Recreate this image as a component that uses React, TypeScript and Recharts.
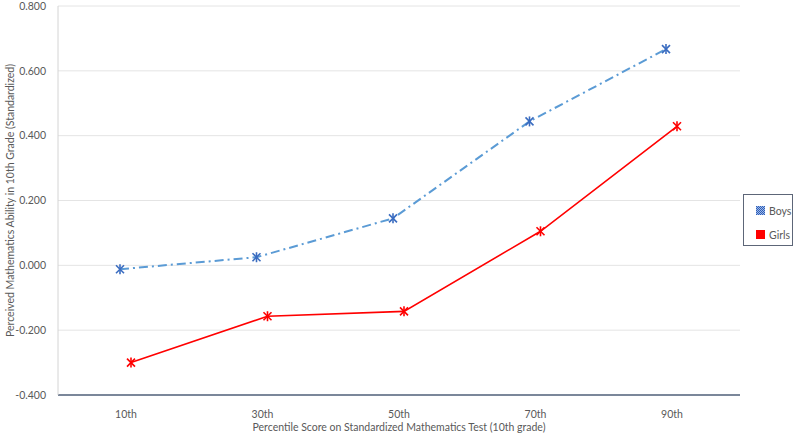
import React from "react";
import {
  LineChart,
  Line,
  XAxis,
  YAxis,
  CartesianGrid,
  Legend,
} from "recharts";

const categories = ["10th", "30th", "50th", "70th", "90th"];
const boys = [-0.012, 0.025, 0.145, 0.444, 0.667];
const girls = [-0.3, -0.157, -0.142, 0.105, 0.429];
const yTicks = [-0.4, -0.2, 0, 0.2, 0.4, 0.6, 0.8];

const data = categories.map((c, i) => ({
  percentile: c,
  boys: boys[i],
  girls: girls[i],
}));

const FONT = "Lato, 'Open Sans', sans-serif";
const TEXT = "#595959";

const Asterisk = (color: string) => (props: any) => {
  const { cx, cy, index } = props;
  if (cx == null || cy == null) return null;
  const r = 5;
  const d = r * 0.8;
  return (
    <g key={`m-${index}`} stroke={color} strokeWidth={1.6}>
      <line x1={cx} y1={cy - r} x2={cx} y2={cy + r} />
      <line x1={cx - d} y1={cy - d} x2={cx + d} y2={cy + d} />
      <line x1={cx - d} y1={cy + d} x2={cx + d} y2={cy - d} />
    </g>
  );
};

const LegendBox = () => (
  <div
    style={{
      width: 50,
      height: 52,
      boxSizing: "border-box",
      border: "1px solid #5d6678",
      background: "white",
      fontFamily: FONT,
      fontSize: 10.5,
      color: TEXT,
      padding: "9px 0 0 12px",
    }}
  >
    <div style={{ display: "flex", alignItems: "center", height: 14 }}>
      <svg width={9} height={9} style={{ marginRight: 4 }}>
        <defs>
          <pattern id="chk" width={2} height={2} patternUnits="userSpaceOnUse">
            <rect width={2} height={2} fill="#9db8e8" />
            <rect width={1} height={1} fill="#2f5fb8" />
            <rect x={1} y={1} width={1} height={1} fill="#2f5fb8" />
          </pattern>
        </defs>
        <rect width={9} height={9} fill="url(#chk)" />
      </svg>
      Boys
    </div>
    <div style={{ display: "flex", alignItems: "center", height: 14, marginTop: 10 }}>
      <svg width={9} height={9} style={{ marginRight: 4 }}>
        <rect width={9} height={9} fill="#ff0000" />
      </svg>
      Girls
    </div>
  </div>
);

const App = () => {
  return (
    <div style={{ position: "absolute", left: 0, top: 0 }}>
      <LineChart
        width={800}
        height={439}
        data={data}
        margin={{ top: 6, right: 10, left: 0, bottom: 0 }}
      >
        <CartesianGrid vertical={false} stroke="#e4e4e4" />
        <XAxis
          dataKey="percentile"
          padding={{ left: 68, right: 68 }}
          height={44}
          tickLine={false}
          tickMargin={10}
          axisLine={{ stroke: "#7b879a", strokeWidth: 2 }}
          tick={{ fill: TEXT, fontSize: 10.5, fontFamily: FONT }}
          label={{
            value: "Percentile Score on Standardized Mathematics Test (10th grade)",
            position: "insideBottom",
            offset: 8,
            style: { fill: TEXT, fontSize: 10.5, fontFamily: FONT },
          }}
        />
        <XAxis
          xAxisId="boys"
          dataKey="percentile"
          hide
          padding={{ left: 62, right: 74 }}
        />
        <XAxis
          xAxisId="girls"
          dataKey="percentile"
          hide
          padding={{ left: 73, right: 63 }}
        />
        <YAxis
          width={58}
          domain={[-0.4, 0.8]}
          ticks={yTicks}
          tickFormatter={(v: number) => v.toFixed(3)}
          tickLine={false}
          tickMargin={6}
          axisLine={{ stroke: "#d4d4d4" }}
          tick={{ fill: TEXT, fontSize: 10.5, fontFamily: FONT }}
          label={{
            value: "Perceived Mathematics Ability in 10th Grade (Standardized)",
            angle: -90,
            position: "insideLeft",
            offset: 10,
            style: { fill: TEXT, fontSize: 10.5, fontFamily: FONT, textAnchor: "middle" },
          }}
        />
        <Legend
          layout="vertical"
          align="right"
          verticalAlign="middle"
          wrapperStyle={{ right: 7 }}
          content={() => <LegendBox />}
        />
        <Line
          xAxisId="boys"
          dataKey="boys"
          name="Boys"
          stroke="#5b9bd5"
          strokeWidth={2}
          strokeDasharray="9 4 2 4"
          dot={Asterisk("#3a6cc0")}
          activeDot={false}
          isAnimationActive={false}
        />
        <Line
          xAxisId="girls"
          dataKey="girls"
          name="Girls"
          stroke="#ff0000"
          strokeWidth={1.6}
          dot={Asterisk("#ff0000")}
          activeDot={false}
          isAnimationActive={false}
        />
      </LineChart>
    </div>
  );
};

export default App;
